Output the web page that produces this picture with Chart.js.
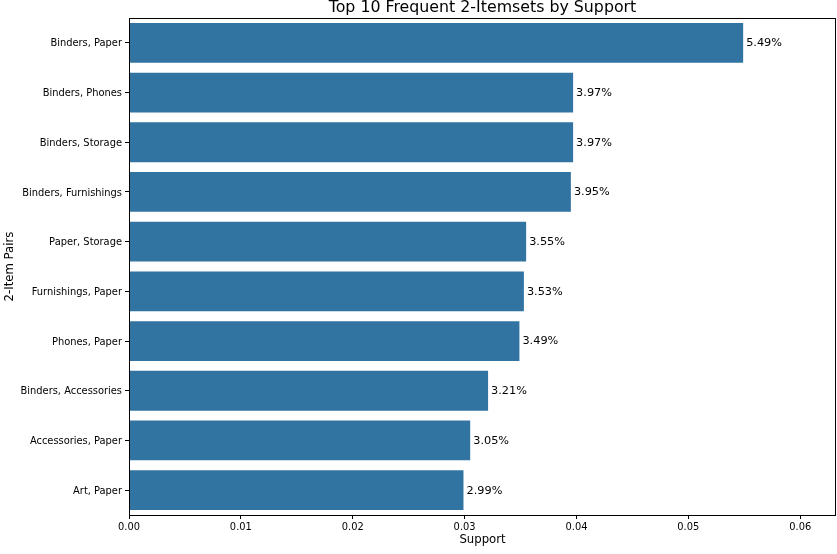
<!DOCTYPE html>
<html>
<head>
<meta charset="utf-8">
<script src="https://cdn.jsdelivr.net/npm/chart.js@4.4.1/dist/chart.umd.min.js"></script>
<style>
  body { margin: 0; background: #fff; }
  #wrap { width: 837px; height: 554px; }
</style>
</head>
<body>
<div id="wrap"><canvas id="chart" width="837" height="554"></canvas></div>
<script>
// Data
var pairs = ['Binders, Paper', 'Binders, Phones', 'Binders, Storage', 'Binders, Furnishings',
  'Paper, Storage', 'Furnishings, Paper', 'Phones, Paper', 'Binders, Accessories',
  'Accessories, Paper', 'Art, Paper'];
var support = [0.0549, 0.0397, 0.0397, 0.0395, 0.0355, 0.0353, 0.0349, 0.0321, 0.0305, 0.0299];
var xTicks = [0, 0.01, 0.02, 0.03, 0.04, 0.05, 0.06];

var FONT = 'DejaVu Sans';

// frame, title and value labels
var extras = {
  id: 'extras',
  afterDraw: function (chart) {
    var c = chart.ctx, a = chart.chartArea;
    c.save();
    c.strokeStyle = '#000';
    c.lineWidth = 1;
    c.strokeRect(Math.round(a.left) + 0.5, Math.round(a.top) + 0.5,
      Math.round(a.right - a.left) - 1, Math.round(a.bottom - a.top));

    c.fillStyle = '#000';
    c.font = '15.8px "' + FONT + '"';
    c.textAlign = 'center';
    c.textBaseline = 'middle';
    c.fillText('Top 10 Frequent 2-Itemsets by Support', (a.left + a.right) / 2, 8);

    c.font = '11.3px "' + FONT + '"';
    c.textAlign = 'left';
    var meta = chart.getDatasetMeta(0);
    meta.data.forEach(function (bar, i) {
      c.fillText((support[i] * 100).toFixed(2) + '%', bar.x + 3, bar.y + 0.5);
    });
    c.restore();
  }
};

var ctx = document.getElementById('chart');
var chart = new Chart(ctx, {
  type: 'bar',
  data: {
    labels: pairs,
    datasets: [{
      data: support,
      backgroundColor: '#3274a1',
      borderWidth: 0,
      categoryPercentage: 1,
      barPercentage: 0.8
    }]
  },
  options: {
    indexAxis: 'y',
    responsive: false,
    animation: false,
    layout: { padding: { top: 18, right: 1, left: 0, bottom: 7 } },
    plugins: { legend: { display: false }, tooltip: { enabled: false }, title: { display: false } },
    scales: {
      x: {
        min: 0,
        max: 0.0632,
        afterBuildTicks: function (s) { s.ticks = xTicks.map(function (v) { return { value: v }; }); },
        grid: { drawOnChartArea: false, color: '#000', tickLength: 4 },
        border: { display: false },
        ticks: {
          color: '#000', padding: 2,
          font: { family: FONT, size: 9.9 },
          callback: function (v) { return Number(v).toFixed(2); }
        },
        title: { display: true, text: 'Support', color: '#000', font: { family: FONT, size: 11.7 }, padding: { top: 2, bottom: 0 } },
        afterFit: function (s) { s.height = 32; }
      },
      y: {
        grid: { drawOnChartArea: false, color: '#000', tickLength: 4, offset: false },
        border: { display: false },
        ticks: { color: '#000', padding: 3, labelOffset: 1, font: { family: FONT, size: 9.9 } },
        title: { display: true, text: '2-Item Pairs', color: '#000', font: { family: FONT, size: 11.7 }, padding: { top: 3, bottom: 2 } },
        afterFit: function (s) { s.width = 129; }
      }
    }
  },
  plugins: [extras]
});
</script>
</body>
</html>
